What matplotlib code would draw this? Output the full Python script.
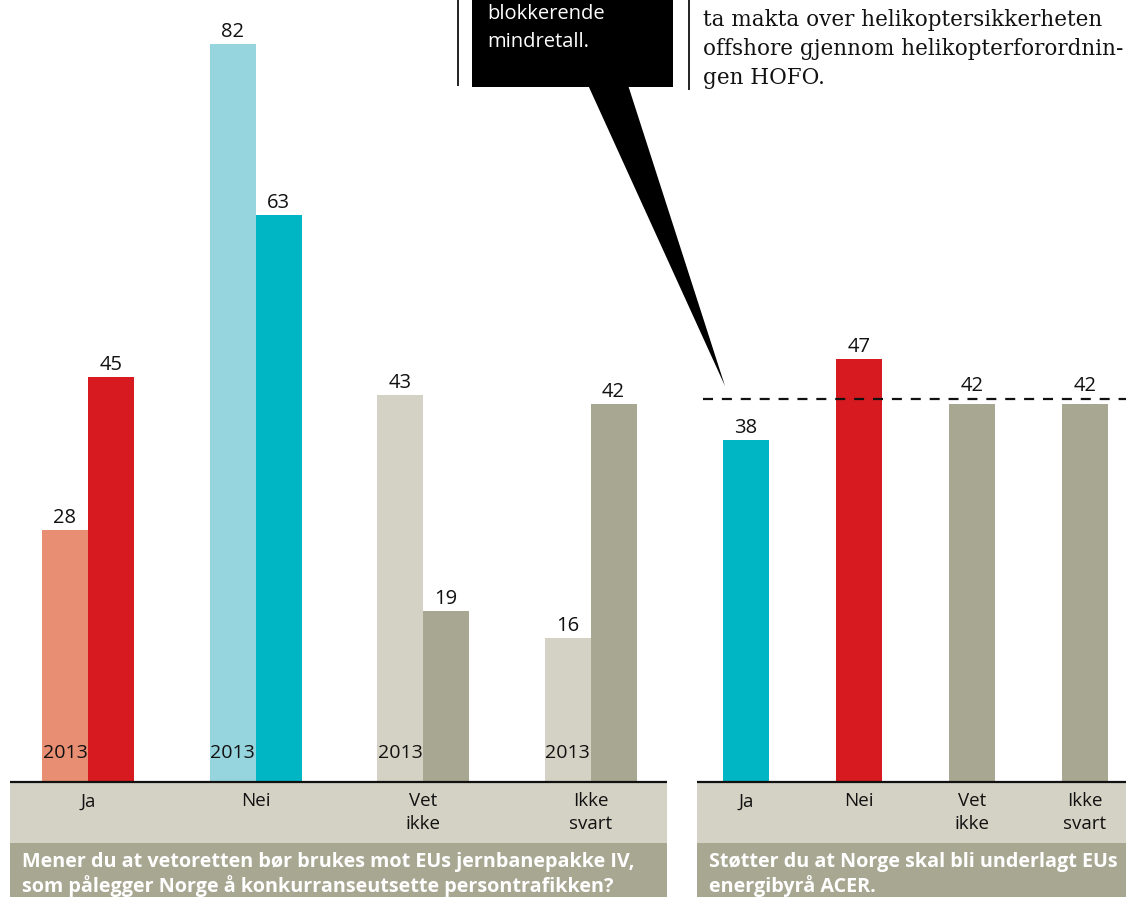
import matplotlib
matplotlib.use("Agg")
import matplotlib.pyplot as plt
from matplotlib.patches import Polygon, Rectangle

# ---------------- data ----------------
categories = ["Ja", "Nei", "Vet\nikke", "Ikke\nsvart"]
rail_2013 = [28, 82, 43, 16]
rail_now = [45, 63, 19, 42]
acer_now = [38, 47, 42, 42]
blocking_minority = 42.5
year_label = "2013"
rail_question = ["Mener du at vetoretten bør brukes mot EUs jernbanepakke IV,",
                 "som pålegger Norge å konkurranseutsette persontrafikken?"]
acer_question = ["Støtter du at Norge skal bli underlagt EUs",
                 "energibyrå ACER."]
bubble_lines = ["blokkerende", "mindretall."]
side_lines = ["ta makta over helikoptersikkerheten",
              "offshore gjennom helikopterforordnin-",
              "gen HOFO."]

# ---------------- style ----------------
RED = "#d71920"
SALMON = "#e88e72"
CYAN = "#00b6c4"
LIGHTCYAN = "#96d5de"
GREY = "#a8a792"
LIGHTGREY = "#d4d2c4"
rail_2013_colors = [SALMON, LIGHTCYAN, LIGHTGREY, LIGHTGREY]
rail_now_colors = [RED, CYAN, GREY, GREY]
acer_colors = [CYAN, RED, GREY, GREY]

SANS = ["Open Sans", "DejaVu Sans"]
SERIF = ["DejaVu Serif"]
plt.rcParams["font.family"] = SANS

W, H = 1126, 897
DPI = 100
fig = plt.figure(figsize=(W / DPI, H / DPI), dpi=DPI)
fig.patch.set_facecolor("white")

PXU = 9.0          # pixels per percentage point
BASE = 782         # baseline pixel row


def box(x0, y0, x1, y1):
    return [x0 / W, 1 - y1 / H, (x1 - x0) / W, (y1 - y0) / H]


def setup(ax, x0, x1, first_center, spacing):
    ax.set_xlim((x0 - first_center) / spacing, (x1 - first_center) / spacing)
    ax.set_ylim(-(H - BASE) / PXU, BASE / PXU)
    ax.axis("off")
    # label bands
    ax.axhspan(-(843 - BASE) / PXU, -1 / PXU, color=LIGHTGREY, lw=0, zorder=0)
    ax.axhspan(-(H - BASE) / PXU, -(843 - BASE) / PXU, color=GREY, lw=0, zorder=0)
    ax.axhline(0, color="#111111", lw=1.6, zorder=5)


def value_label(ax, x, v, anchor=None):
    y = v if anchor is None else anchor
    ax.annotate(str(v), (x, y), xytext=(0, 1.5), textcoords="offset points",
                ha="center", va="bottom", fontsize=14.5, color="#111111", zorder=7)


def cat_labels(ax, xs):
    for x, c in zip(xs, categories):
        ax.annotate(c, (x, 0), xytext=(0, -7.5), textcoords="offset points",
                    ha="center", va="top", fontsize=13.5, color="#111111",
                    linespacing=1.3)


# ---------------- left panel ----------------
axL = fig.add_axes(box(10, 0, 667, H))
sp = 167.5
setup(axL, 10, 667, 88, sp)
bw = 46 / sp
xs = list(range(len(categories)))
axL.bar([x - bw / 2 for x in xs], rail_2013, width=bw, color=rail_2013_colors, lw=0, zorder=2)
axL.bar([x + bw / 2 for x in xs], rail_now, width=bw, color=rail_now_colors, lw=0, zorder=3)
for x, v in zip(xs, rail_2013):
    value_label(axL, x - bw / 2, v)
    axL.annotate(year_label, (x - bw / 2, 0), xytext=(0, 21), textcoords="offset points",
                 ha="center", va="center", fontsize=14, color="#111111", zorder=6)
for x, v in zip(xs, rail_now):
    value_label(axL, x + bw / 2, v)
cat_labels(axL, xs)

# ---------------- right panel ----------------
axR = fig.add_axes(box(697, 0, W, H))
sp2 = 113
setup(axR, 697, W, 746, sp2)
bw2 = 46 / sp2
axR.bar(xs, acer_now, width=bw2, color=acer_colors, lw=0, zorder=3)
for x, v in zip(xs, acer_now):
    # labels of bars just under the threshold line are lifted above it
    anchor = blocking_minority + 0.2 if 0 < blocking_minority - v < 2 else None
    value_label(axR, x, v, anchor)
cat_labels(axR, xs)
axR.axhline(blocking_minority, xmin=6 / (W - 697), xmax=1, color="#111111", lw=1.6,
            dashes=(4.5, 4), zorder=6)

# ---------------- overlay (pixel coordinates) ----------------
ov = fig.add_axes([0, 0, 1, 1])
ov.set_xlim(0, W)
ov.set_ylim(H, 0)
ov.axis("off")
ov.patch.set_alpha(0)

ov.add_patch(Rectangle((472, 0), 201, 87, color="black", lw=0))
ov.add_patch(Polygon([(588, 85), (628, 85), (725, 386)], closed=True, color="black", lw=0))
ov.plot([458, 458], [0, 85], color="#222222", lw=1.4)
ov.plot([689, 689], [0, 89], color="#222222", lw=1.4)

for i, t in enumerate(bubble_lines):
    ov.text(487, 14 + 28 * i, t, color="white", fontsize=14.5, va="center", ha="left")
for i, t in enumerate(side_lines):
    ov.text(703, 20 + 29 * i, t, color="#111111", fontsize=15.5, va="center", ha="left",
            family=SERIF)
for i, t in enumerate(rail_question):
    ov.text(22, 862 + 24 * i, t, color="white", fontsize=14.2, fontweight="bold",
            va="center", ha="left")
for i, t in enumerate(acer_question):
    ov.text(709, 862 + 24 * i, t, color="white", fontsize=14.2, fontweight="bold",
            va="center", ha="left")

fig.savefig("out.png", dpi=DPI, facecolor="white")
